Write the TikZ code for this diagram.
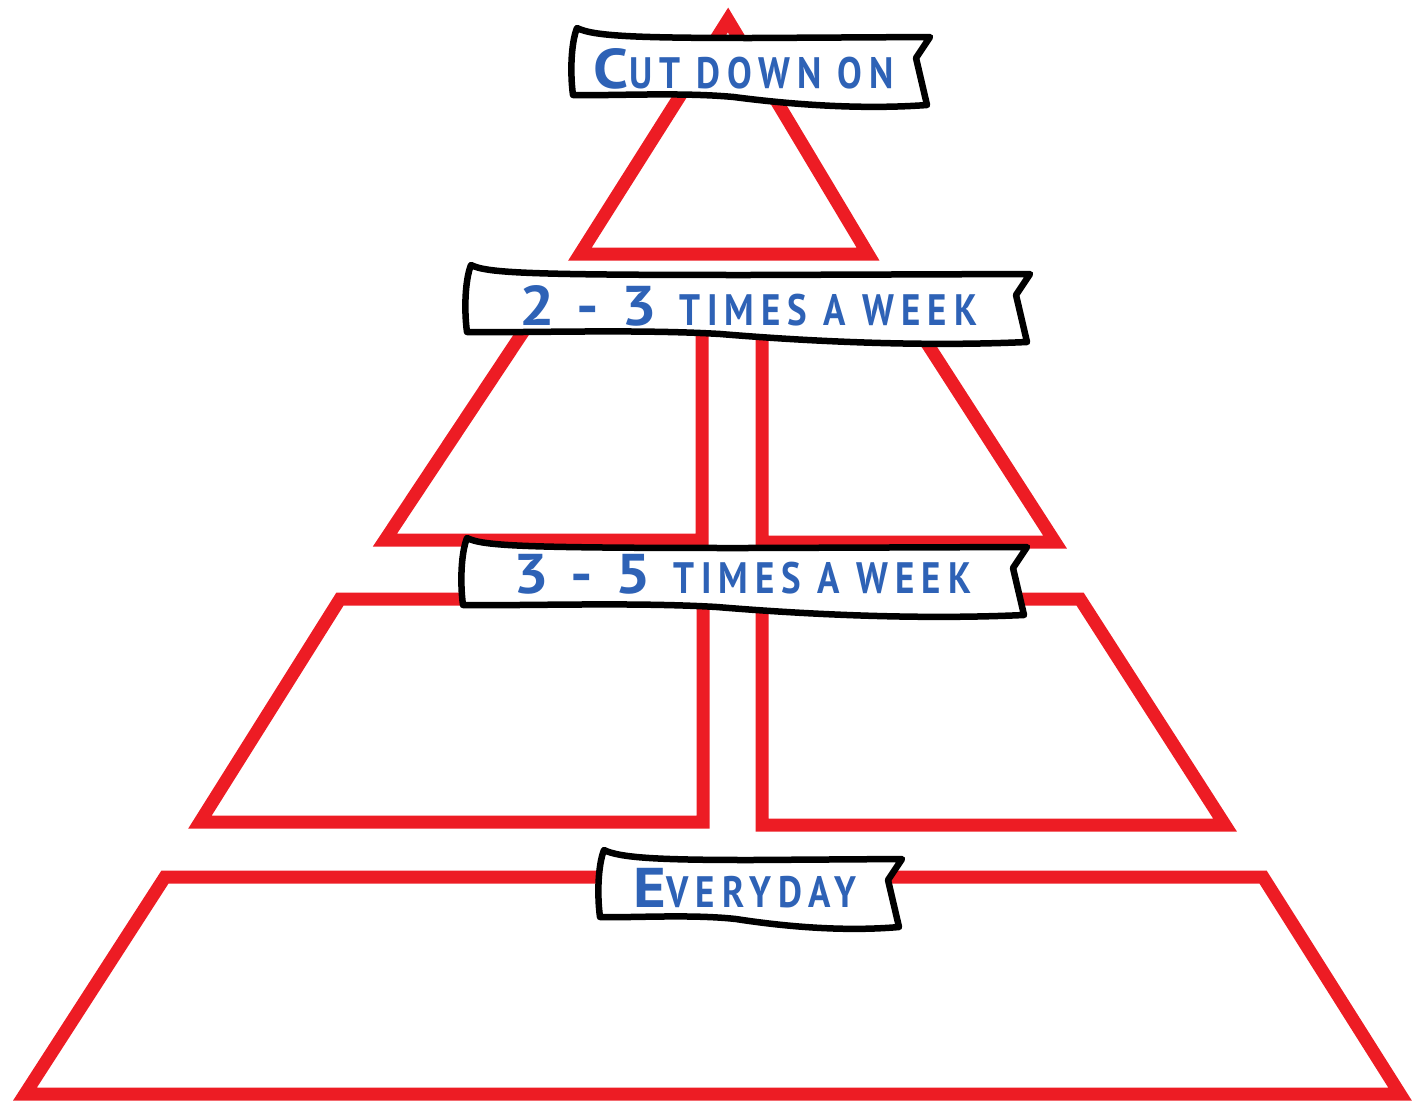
\documentclass[tikz,border=0pt]{standalone}
\usepackage{fontspec}
\newfontfamily\bannerfont[LetterSpace=16,FakeStretch=0.84]{PT Sans}
\newfontfamily\bannerwide[LetterSpace=6,FakeStretch=1.12]{PT Sans}
\definecolor{pyramid}{HTML}{ED1C24}
\definecolor{ink}{HTML}{2E62B6}
\newcommand\capbig[1]{{\bannerwide\bfseries\fontsize{56pt}{56pt}\selectfont #1}}

\begin{document}
\begin{tikzpicture}[x=1pt, y=-1pt, line join=miter,
    tier/.style={draw=pyramid, line width=13pt},
    banner/.style={draw=black, fill=white, line width=6.5pt, line join=round},
    caption/.style={text=ink, anchor=base, inner sep=0pt,
      font={\bannerfont\bfseries\fontsize{44pt}{44pt}\selectfont}}]
  \useasboundingbox (0,0) rectangle (1420,1101);
  \draw[tier] (728,20) -- (868,254) -- (580,254) -- cycle;
  \draw[tier] (531,320) -- (702,320) -- (702,540) -- (385,540) -- cycle;
  \draw[tier] (762,320) -- (912,320) -- (1055,542) -- (762,542) -- cycle;
  \draw[tier] (340,599) -- (703,599) -- (703,822) -- (200,822) -- cycle;
  \draw[tier] (762,599) -- (1080,599) -- (1225,825) -- (762,825) -- cycle;
  \draw[tier] (165,877) -- (1263,877) -- (1400,1094) -- (25,1094) -- cycle;
  \foreach \l/\r/\t in {573/930/28, 467/1030/265, 463/1027/538, 600/902/850} {
    \draw[banner] (\l+4,\t) .. controls (\l+20,\t+8) and (\l+60,\t+10) .. ({(\l+\r)/2},\t+10)
      -- (\r,\t+9) -- (\r-14,\t+30) -- (\r-3,\t+77)
      .. controls ({\r-0.2*(\r-\l)},\t+82) and ({\l+0.6*(\r-\l)},\t+76) .. ({\l+0.45*(\r-\l)},\t+69)
      .. controls ({\l+0.3*(\r-\l)},\t+64) and ({\l+0.1*(\r-\l)},\t+68) .. (\l,\t+67)
      .. controls (\l-3,\t+45) and (\l-2,\t+15) .. cycle;
  }
  \node[caption] (cut) at (744,88) {\capbig{C}UT DOWN ON};
  \node[caption] (twothree) at (748,325) {\capbig{2\hspace{22pt}-\hspace{22pt}3}\hspace{6pt} TIMES A WEEK};
  \node[caption] (threefive) at (742,593) {\capbig{3\hspace{22pt}-\hspace{22pt}5}\hspace{6pt} TIMES A WEEK};
  \node[caption] (daily) at (745,907) {\capbig{E}VERYDAY};
\end{tikzpicture}
\end{document}
